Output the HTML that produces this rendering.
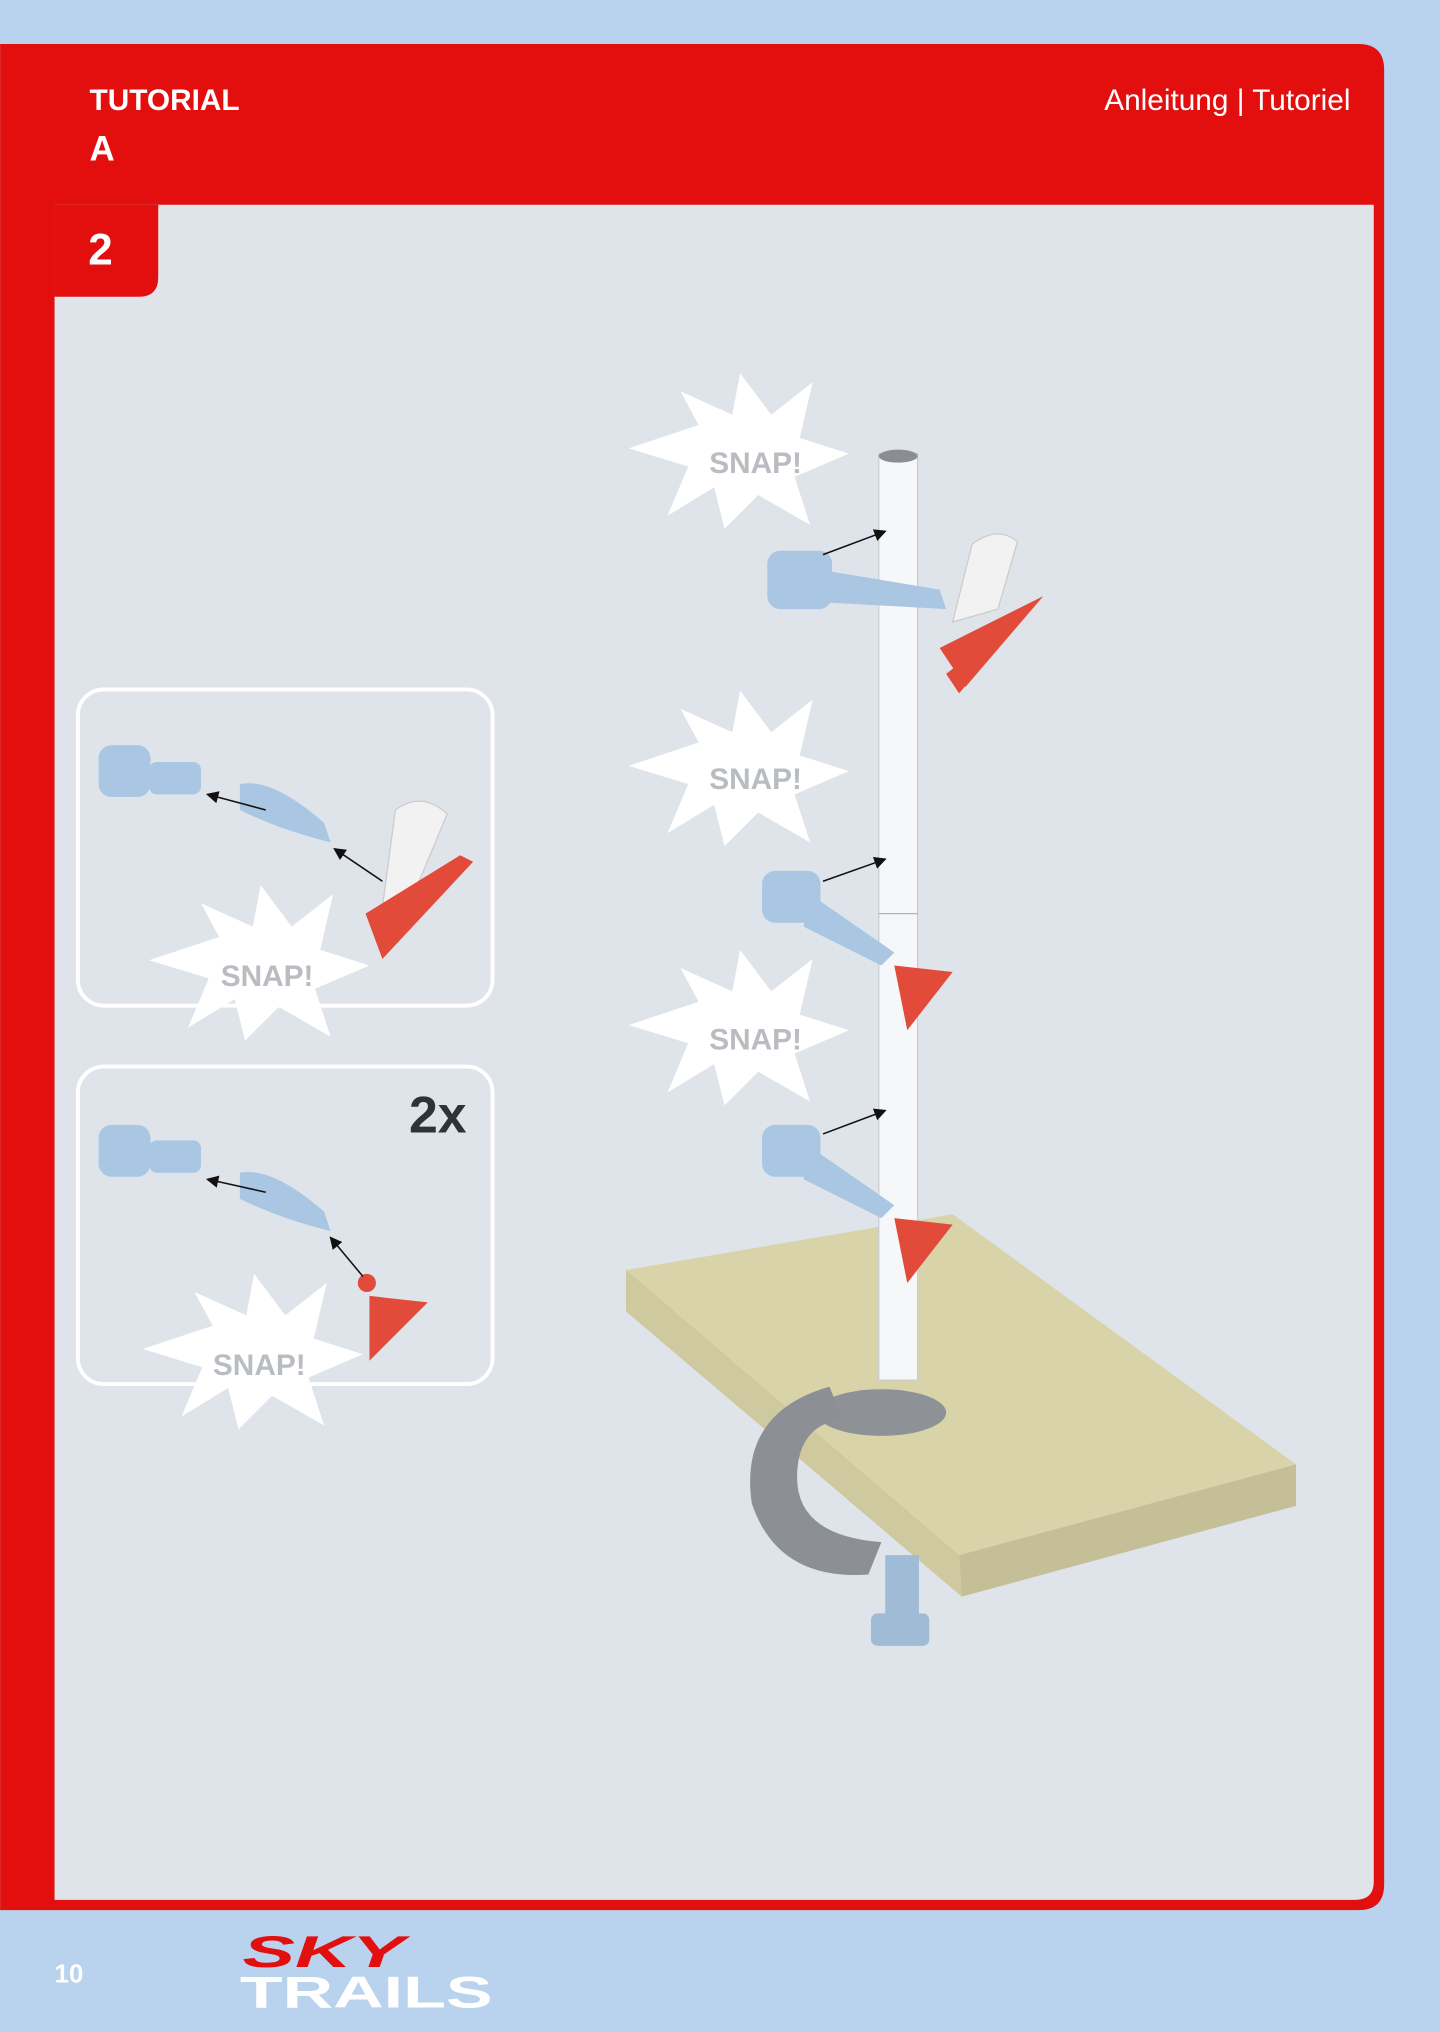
<!DOCTYPE html>
<html><head><meta charset="utf-8"><style>
html,body{margin:0;padding:0;background:#b9d3ee;}
svg{display:block}
</style></head><body>
<svg width="1440" height="2032" viewBox="0 0 1111 1568" xmlns="http://www.w3.org/2000/svg" font-family="Liberation Sans, sans-serif">
<defs>
<g id="star">
<polygon points="-4,-62 20,-30 52,-55 42,-12 80,0 38,18 50,55 10,32 -16,58 -24,26 -60,48 -44,10 -90,-4 -36,-22 -50,-48 -10,-30" fill="#fff"/>
</g>
<marker id="ah" markerWidth="8" markerHeight="8" refX="7" refY="4" orient="auto"><path d="M0,0 L8,4 L0,8 Z" fill="#111"/></marker>
</defs>
<rect width="1111" height="1568" fill="#b9d3ee"/>
<path d="M0,34 H1048 Q1068,34 1068,54 V1454 Q1068,1474 1048,1474 H0 Z" fill="#e30f0f"/>
<path d="M42,158 H1060 V1452 Q1060,1466 1046,1466 H42 Z" fill="#dfe4ea"/>
<path d="M42,158 H122 V214 Q122,229 107,229 H42 Z" fill="#e30f0f"/>
<text x="69" y="85" fill="#fff" font-weight="bold" font-size="23">TUTORIAL</text>
<text x="69" y="124" fill="#fff" font-weight="bold" font-size="27">A</text>
<text x="1042" y="85" fill="#fff" font-size="23" text-anchor="end">Anleitung | Tutoriel</text>
<text x="68" y="204" fill="#fff" font-weight="bold" font-size="34">2</text>

<rect x="60" y="532" width="320" height="244" rx="20" fill="none" stroke="#fff" stroke-width="3"/>
<rect x="60" y="823" width="320" height="245" rx="20" fill="none" stroke="#fff" stroke-width="3"/>
<text x="360" y="874" fill="#2e3338" font-weight="bold" font-size="40" text-anchor="end">2x</text>

<polygon points="483,980 735,937 1000,1130 740,1200 483,1010" fill="#d8d3a8"/>
<polygon points="740,1200 1000,1130 1000,1162 742,1232" fill="#c4bf96"/>
<polygon points="483,980 740,1200 742,1232 483,1012" fill="#cfc9a0"/>
<ellipse cx="680" cy="1090" rx="50" ry="18" fill="#8e9297"/>
<path d="M640,1070 Q570,1090 580,1160 Q600,1220 670,1215 L680,1190 Q615,1185 615,1140 Q615,1100 650,1095 Z" fill="#8c9096"/>
<rect x="683" y="1200" width="26" height="60" fill="#9fbbd6"/>
<rect x="672" y="1245" width="45" height="25" rx="5" fill="#9fbbd6"/>
<rect x="678" y="350" width="30" height="715" fill="#f6f7f8" stroke="#c9cdd2"/>
<ellipse cx="693" cy="352" rx="15" ry="5" fill="#8a8d91"/>
<line x1="678" y1="705" x2="708" y2="705" stroke="#b0b4b8"/>

<g transform="translate(575,350)"><use href="#star"/></g>
<g transform="translate(575,595)"><use href="#star"/></g>
<g transform="translate(575,795)"><use href="#star"/></g>
<g transform="translate(205,745)"><use href="#star"/></g>
<g transform="translate(200,1045)"><use href="#star"/></g>
<g fill="#b9bcc0" font-weight="bold" font-size="23" text-anchor="middle">
<text x="583" y="365">SNAP!</text>
<text x="583" y="609">SNAP!</text>
<text x="583" y="810">SNAP!</text>
<text x="206" y="761">SNAP!</text>
<text x="200" y="1061">SNAP!</text>
</g>

<g fill="#a9c6e2">
<rect x="592" y="425" width="50" height="45" rx="10"/>
<path d="M635,440 L725,455 L730,470 L640,465 Z"/>
<rect x="588" y="672" width="45" height="40" rx="10"/>
<path d="M625,690 L690,735 L680,745 L620,715 Z"/>
<rect x="588" y="868" width="45" height="40" rx="10"/>
<path d="M625,885 L690,930 L680,940 L620,910 Z"/>
</g>
<path d="M750,420 Q770,405 785,418 L770,470 L735,480 Z" fill="#f2f2f2" stroke="#ccc"/>
<polygon points="740,535 805,458 795,470 730,520" fill="#e24a3a"/>
<polygon points="725,500 745,530 805,460" fill="#e24a3a"/>
<polygon points="690,745 735,750 700,795" fill="#e24a3a"/>
<polygon points="690,940 735,945 700,990" fill="#e24a3a"/>
<g stroke="#111" stroke-width="1.2" marker-end="url(#ah)">
<line x1="635" y1="428" x2="683" y2="410"/>
<line x1="635" y1="680" x2="683" y2="663"/>
<line x1="635" y1="875" x2="683" y2="857"/>
</g>

<g fill="#a9c6e2">
<rect x="76" y="575" width="40" height="40" rx="10"/>
<rect x="115" y="588" width="40" height="25" rx="6"/>
<path d="M185,605 Q210,600 250,635 L255,650 Q215,640 185,625 Z"/>
<rect x="76" y="868" width="40" height="40" rx="10"/>
<rect x="115" y="880" width="40" height="25" rx="6"/>
<path d="M185,905 Q210,900 250,935 L255,950 Q215,940 185,925 Z"/>
</g>
<path d="M305,625 Q325,610 345,628 L315,700 L295,700 Z" fill="#f2f2f2" stroke="#ccc"/>
<polygon points="295,740 365,665 355,660 282,705" fill="#e24a3a"/>
<polygon points="285,1050 330,1005 285,1000" fill="#e24a3a"/>
<circle cx="283" cy="990" r="7" fill="#e24a3a"/>
<g stroke="#111" stroke-width="1.2" marker-end="url(#ah)">
<line x1="205" y1="625" x2="160" y2="613"/>
<line x1="295" y1="680" x2="258" y2="655"/>
<line x1="205" y1="920" x2="160" y2="910"/>
<line x1="280" y1="985" x2="255" y2="955"/>
</g>

<text x="42" y="1530" fill="#fff" font-weight="bold" font-size="20">10</text>
<text x="187" y="1518" fill="#e30f0f" font-weight="bold" font-size="34" font-style="italic" textLength="125" lengthAdjust="spacingAndGlyphs">SKY</text>
<text x="185" y="1549" fill="#fff" font-weight="bold" font-size="34" textLength="195" lengthAdjust="spacingAndGlyphs">TRAILS</text>
</svg>
</body></html>
